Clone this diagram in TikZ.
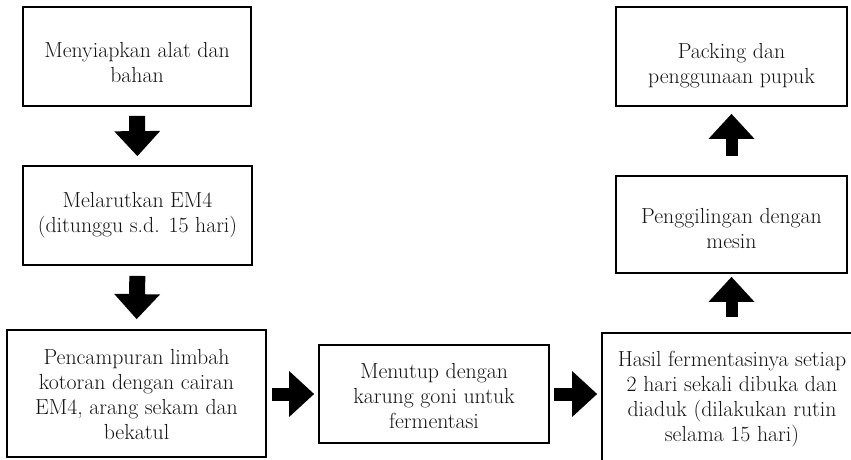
\documentclass[tikz,border=0pt]{standalone}
\usetikzlibrary{arrows.meta,calc}
\begin{document}
\begin{tikzpicture}[x=1pt,y=-1pt,
  box/.style={draw=black,line width=1.8pt,inner sep=0pt,fill=white},
  txt/.style={align=center,inner sep=0pt,text=black!92,font=\fontsize{21.8}{25}\selectfont},
  barrow/.style={line width=#1,-{Triangle[width=46pt,length=25pt,line width=0pt]}},
  barrow/.default=14pt]
\useasboundingbox (0,0) rectangle (851,459);
\clip (0,0) rectangle (851,459);
% boxes
\node[box,minimum width=228pt,minimum height=99pt] (b1) at (137,56.5) {};
\node[box,minimum width=229pt,minimum height=99pt] (b2) at (137.5,215.5) {};
\node[box,minimum width=259pt,minimum height=127pt] (b3) at (136.5,393.5) {};
\node[box,minimum width=230pt,minimum height=98pt] (b4) at (434,394) {};
\node[box,minimum width=260pt,minimum height=132pt] (b5) at (732,399) {};
\node[box,minimum width=231pt,minimum height=99pt] (b6) at (731.5,56.5) {};
\node[box,minimum width=231pt,minimum height=97pt] (b7) at (731.5,224.5) {};
% texts
\node[txt] (t1) at ($(b1.center)+(0,6)$) {Menyiapkan alat dan\\bahan};
\node[txt] (t2) at (b2.center) {Melarutkan EM4\\(ditunggu s.d. 15 hari)};
\node[txt] (t3) at ($(b3.center)+(0,1.5)$) {Pencampuran limbah\\kotoran dengan cairan\\EM4, arang sekam dan\\bekatul};
\node[txt] (t4) at ($(b4.center)+(0,2)$) {Menutup dengan\\karung goni untuk\\fermentasi};
\node[txt] (t5) at (b5.center) {Hasil fermentasinya setiap\\2 hari sekali dibuka dan\\diaduk (dilakukan rutin\\selama 15 hari)};
\node[txt] (t6) at ($(b6.center)+(0,9)$) {Packing dan\\penggunaan pupuk};
\node[txt] (t7) at ($(b7.center)+(0,4)$) {Penggilingan dengan\\mesin};
% arrows
\draw[barrow=16pt,shorten <=9pt,shorten >=9pt] (b1.south) -- (b2.north);
\draw[barrow=16pt,shorten <=10pt,shorten >=10pt] (b2.south) -- (b3.north);
\draw[barrow=13pt,shorten <=5pt,shorten >=4pt] (b3.east |- b4.center) -- (b4.west);
\draw[barrow=13pt,shorten <=4pt,shorten >=4pt] (b4.east) -- (b4.east -| b5.west);
\draw[barrow=12pt,shorten <=15pt,shorten >=3pt] (b7.south |- b5.north) -- (b7.south);
\draw[barrow=12pt,shorten <=19pt,shorten >=7pt] (b7.north) -- (b6.south);
\end{tikzpicture}
\end{document}
